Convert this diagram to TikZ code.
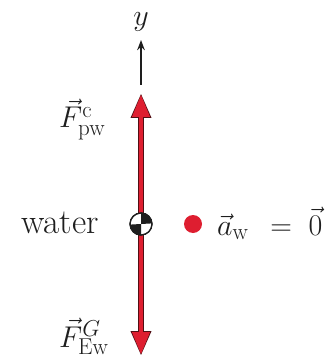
\RequirePackage{fix-cm}
\documentclass[tikz,border=0pt]{standalone}
\usepackage{tikz}
\usetikzlibrary{arrows.meta}
\definecolor{FbdRed}{RGB}{222,30,48}
\definecolor{FbdEdge}{RGB}{80,15,20}
\definecolor{FbdInk}{RGB}{30,30,30}
\DeclareMathSizes{30}{30}{23}{18}

\begin{document}
\begin{tikzpicture}[x=1pt,y=-1pt,>=Stealth]
        \tikzset{lbl/.style={inner sep=0pt,text=FbdInk,font=\fontsize{35}{37}\selectfont},mlbl/.style={inner sep=0pt,text=FbdInk,font=\fontsize{30}{32}\selectfont},forceout/.style={draw=FbdEdge,line width=6.6pt,-{Triangle[length=25pt,width=19pt]}},forcein/.style={draw=FbdRed,line width=4.8pt,shorten >=1.3pt,-{Triangle[length=22.5pt,width=16.5pt]}}}
        \useasboundingbox (0,0) rectangle (333,358);
        \coordinate (cm) at (141,224);
        \coordinate (up) at (141,93);
        \coordinate (down) at (141,356);
        \coordinate (ytail) at (141,85);
        \coordinate (yhead) at (141,40);
        \draw[forceout] (cm) -- (up);
        \draw[forcein] (cm) -- (up);
        \draw[forceout] (cm) -- (down);
        \draw[forcein] (cm) -- (down);
        \draw[->,FbdInk,line width=1.6pt] (ytail) -- (yhead);
        \node[mlbl,anchor=base] (ylab) at (141,26) {$y$};
        % center of mass
        \node[circle,draw=FbdInk,fill=white,line width=1.2pt,minimum size=22pt,inner sep=0pt] (water) at (cm) {};
        \fill[FbdInk] (cm) -- (water.north) arc[start angle=90,end angle=0,radius=11pt] -- cycle;
        \fill[FbdInk] (cm) -- (water.south) arc[start angle=270,end angle=180,radius=11pt] -- cycle;
        \draw[FbdInk,line width=1.2pt] (water) circle[radius=11pt];
        \node[lbl,anchor=base west] (wlab) at (21,233) {water};
        \node[circle,fill=FbdRed,minimum size=18pt,inner sep=0pt] (dot) at (193,224) {};
        \node[mlbl,anchor=base west] (alab) at (217,235) {$\vec{a}_{\mathrm{w}}\;\,=\;\vec{0}$};
        \node[mlbl,anchor=base west] (fc) at (59,128) {$\vec{F}^{\mathrm{c}}_{\mathrm{pw}}$};
        \node[mlbl,anchor=base west] (fg) at (59,347) {$\vec{F}^{G}_{\mathrm{Ew}}$};
      \end{tikzpicture}
\end{document}
